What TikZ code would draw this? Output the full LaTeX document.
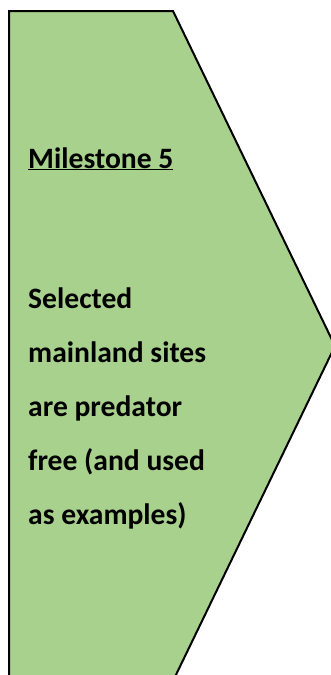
\documentclass[tikz,border=0pt]{standalone}
\usepackage{fontspec}
\setmainfont{Carlito}
\definecolor{msgreen}{HTML}{A9D18E}
\begin{document}
\begin{tikzpicture}[x=1pt,y=-1pt,
  lbl/.style={anchor=base west, inner sep=0pt, font=\fontsize{29.6}{34}\selectfont\bfseries},
  arrowshape/.style={fill=msgreen, draw=black, line width=2pt, line join=miter}]
\useasboundingbox (0,0) rectangle (331,675);
\begin{scope}
\clip (0,0) rectangle (331,675);
\draw[arrowshape] (9,11) -- (173,11) -- (335,346) -- (173,681) -- (9,681) -- cycle;
\end{scope}
\node[lbl] (title) at (28,168) {\underline{Milestone 5}};
\node[lbl] (l1) at (28,308) {Selected};
\node[lbl] (l2) at (28,362) {mainland sites};
\node[lbl] (l3) at (28,416) {are predator};
\node[lbl] (l4) at (28,470) {free (and used};
\node[lbl] (l5) at (28,524) {as examples)};
\end{tikzpicture}
\end{document}
